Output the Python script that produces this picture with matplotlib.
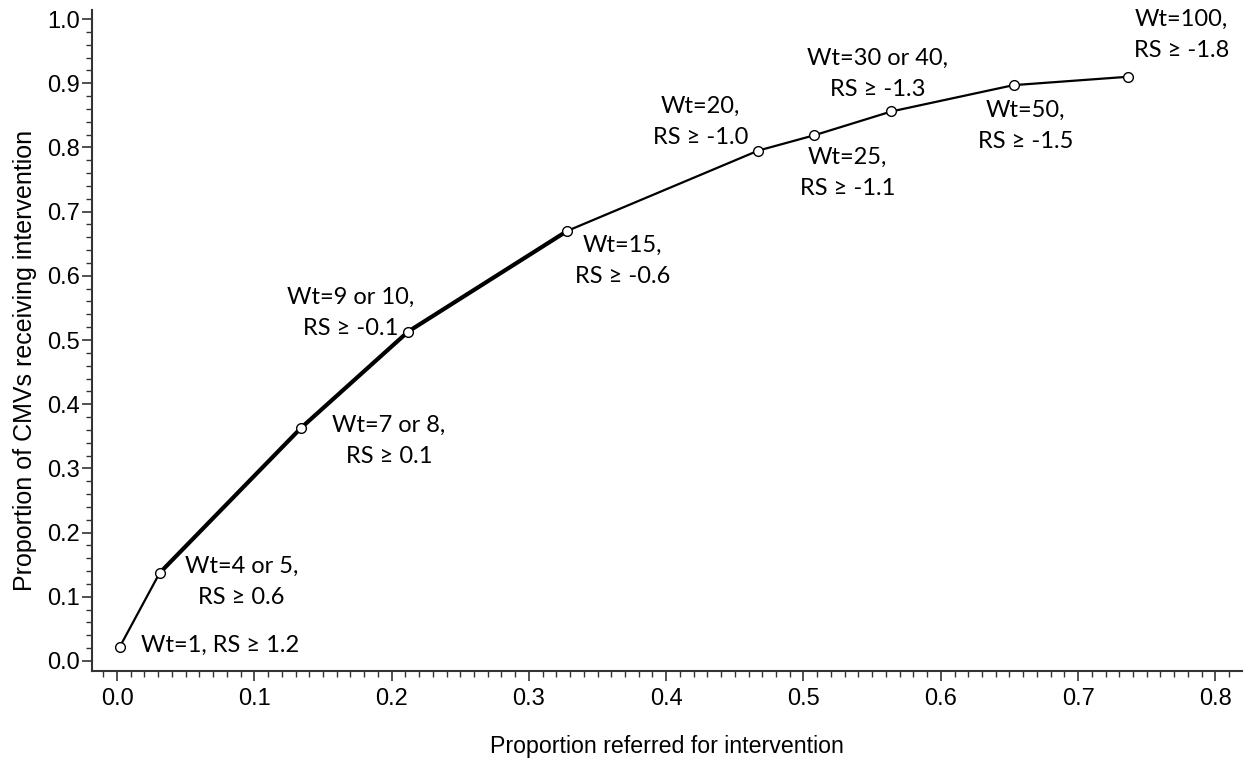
import numpy as np
import matplotlib
matplotlib.use('Agg')
from matplotlib import pyplot as plt
from matplotlib.ticker import MultipleLocator, FormatStrFormatter

# values
referred = [0.002, 0.031, 0.134, 0.212, 0.328, 0.467, 0.508, 0.564, 0.653, 0.736]
received = [0.022, 0.137, 0.363, 0.513, 0.670, 0.795, 0.819, 0.856, 0.897, 0.910]
labels = ['Wt=1, RS \u2265 1.2',
          'Wt=4 or 5,\nRS \u2265 0.6',
          'Wt=7 or 8,\nRS \u2265 0.1',
          'Wt=9 or 10,\nRS \u2265 -0.1',
          'Wt=15,\nRS \u2265 -0.6',
          'Wt=20,\nRS \u2265 -1.0',
          'Wt=25,\nRS \u2265 -1.1',
          'Wt=30 or 40,\nRS \u2265 -1.3',
          'Wt=50,\nRS \u2265 -1.5',
          'Wt=100,\nRS \u2265 -1.8']
# label offsets in pixels (dx, dy) and horizontal alignment
offsets = [(21, 2), (82, -9), (88, -13), (-57, 19), (55, -30),
           (-58, 29), (33, -38), (-14, 38), (12, -41), (54, 42)]
aligns = ['left'] + ['center'] * 9

fig = plt.figure(figsize=(12.49, 7.6), dpi=100)
ax = fig.add_axes([0.0737, 0.1171, 0.9207, 0.8697])

ax.plot(referred, received, color='black', lw=1.6, zorder=2)
# middle stretch of the curve is drawn heavier in the reference
ax.plot(referred[1:5], received[1:5], color='black', lw=3.0, zorder=2)
ax.plot(referred, received, ls='none', marker='o', ms=7, mfc='white',
        mec='black', mew=1.0, zorder=3)

for x, y, t, (dx, dy), ha in zip(referred, received, labels, offsets, aligns):
    ax.annotate(t, (x, y), xytext=(dx, dy), textcoords='offset pixels',
                ha=ha, va='center', fontsize=17, family='Lato',
                linespacing=1.6, multialignment='center')

ax.set_xlim(-0.0182, 0.8194)
ax.set_ylim(-0.0156, 1.014)
ax.xaxis.set_major_locator(MultipleLocator(0.1))
ax.xaxis.set_minor_locator(MultipleLocator(0.01))
ax.yaxis.set_major_locator(MultipleLocator(0.1))
ax.yaxis.set_minor_locator(MultipleLocator(0.02))
ax.xaxis.set_major_formatter(FormatStrFormatter('%.1f'))
ax.yaxis.set_major_formatter(FormatStrFormatter('%.1f'))

for s in ['top', 'right']:
    ax.spines[s].set_visible(False)
for s in ['left', 'bottom']:
    ax.spines[s].set_color('#333333')
    ax.spines[s].set_linewidth(1.5)

ax.tick_params(which='major', length=7, width=1.2, color='#333333',
               labelsize=17)
ax.tick_params(axis='x', which='major', pad=5)
ax.tick_params(axis='y', which='major', pad=2)
ax.tick_params(which='minor', length=4, width=1.0, color='#333333')
for lab in ax.get_xticklabels() + ax.get_yticklabels():
    lab.set_family('Liberation Sans')

ax.set_xlabel('Proportion referred for intervention', family='Liberation Sans',
              fontsize=16.7, labelpad=18)
ax.set_ylabel('Proportion of CMVs receiving intervention', family='Liberation Sans',
              fontsize=18, labelpad=6)
ax.yaxis.set_label_coords(-0.048, 0.47)

fig.savefig('out.png', dpi=100)
